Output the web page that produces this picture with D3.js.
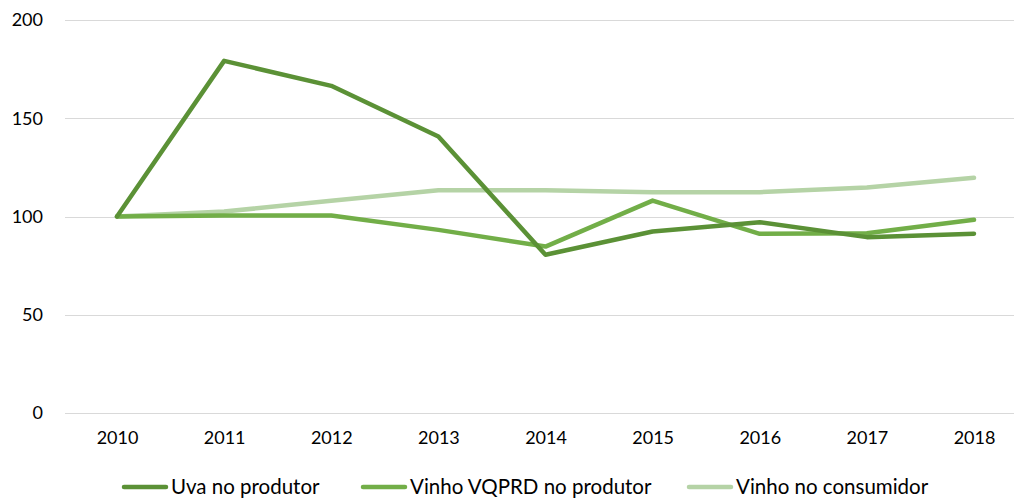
<!DOCTYPE html>
<html>
<head>
<meta charset="utf-8">
<script src="https://cdn.jsdelivr.net/npm/d3@7"></script>
<style>
    body { margin: 0; background: #fff; }
    svg text { font-family: Lato, "Open Sans", sans-serif; fill: #000; }
</style>
</head>
<body>
<div id="chart"></div>
<script>
const years = ['2010', '2011', '2012', '2013', '2014', '2015', '2016', '2017', '2018'];
const uvaProdutor = [100, 179.2, 166.5, 140.7, 80.5, 92.4, 97.1, 89.5, 91.2];
const vinhoVqprd = [100, 100.5, 100.5, 93.2, 84.7, 108.1, 91.2, 91.5, 98.3];
const vinhoConsumidor = [100, 102.5, 108, 113.4, 113.3, 112.4, 112.4, 114.8, 119.7];
const yTicks = [0, 50, 100, 150, 200];

const series = [
    {name: 'Uva no produtor', values: uvaProdutor, color: '#5b9136'},
    {name: 'Vinho VQPRD no produtor', values: vinhoVqprd, color: '#72ae48'},
    {name: 'Vinho no consumidor', values: vinhoConsumidor, color: '#b5d3a6'}
];

const width = 1014, height = 501;

const svg = d3.select('#chart')
    .append('svg')
    .attr('width', width)
    .attr('height', height);

const x = d3.scalePoint()
    .domain(years)
    .range([117, 974]);

const y = d3.scaleLinear()
    .domain([0, 200])
    .range([413, 20]);

// gridlines
svg.append('g')
    .selectAll('line')
    .data(yTicks)
    .enter().append('line')
    .attr('x1', 65)
    .attr('x2', 1014)
    .attr('y1', d => Math.round(y(d)) + 0.5)
    .attr('y2', d => Math.round(y(d)) + 0.5)
    .attr('stroke', '#d9d9d9')
    .attr('stroke-width', 1);

// y axis labels
const yAxis = svg.append('g')
    .attr('transform', 'translate(52,0)')
    .call(d3.axisLeft(y).tickValues(yTicks).tickSize(0).tickPadding(9));
yAxis.select('.domain').remove();
yAxis.selectAll('text').style('font-size', '18px').attr('fill', '#000');

// x axis labels
const xAxis = svg.append('g')
    .attr('transform', 'translate(0,431)')
    .call(d3.axisBottom(x).tickSize(0).tickPadding(0));
xAxis.select('.domain').remove();
xAxis.selectAll('text').style('font-size', '18px').attr('fill', '#000');

const line = d3.line()
    .x((d, i) => x(years[i]))
    .y(d => y(d));

// draw in reverse so the dark series is on top
svg.append('g')
    .selectAll('path')
    .data(series.slice().reverse())
    .enter().append('path')
    .attr('d', d => line(d.values))
    .attr('fill', 'none')
    .attr('stroke', d => d.color)
    .attr('stroke-width', 4.5)
    .attr('stroke-linejoin', 'round')
    .attr('stroke-linecap', 'round');

// legend
const legendX = [124, 363, 689];
const legend = svg.append('g')
    .selectAll('g')
    .data(series)
    .enter().append('g')
    .attr('transform', (d, i) => `translate(${legendX[i]},487)`);

legend.append('line')
    .attr('x1', 0)
    .attr('x2', 42)
    .attr('stroke', d => d.color)
    .attr('stroke-width', 4.5)
    .attr('stroke-linecap', 'round');

legend.append('text')
    .attr('x', 47)
    .attr('dy', '0.35em')
    .style('font-size', '20.5px')
    .text(d => d.name);
</script>
</body>
</html>
